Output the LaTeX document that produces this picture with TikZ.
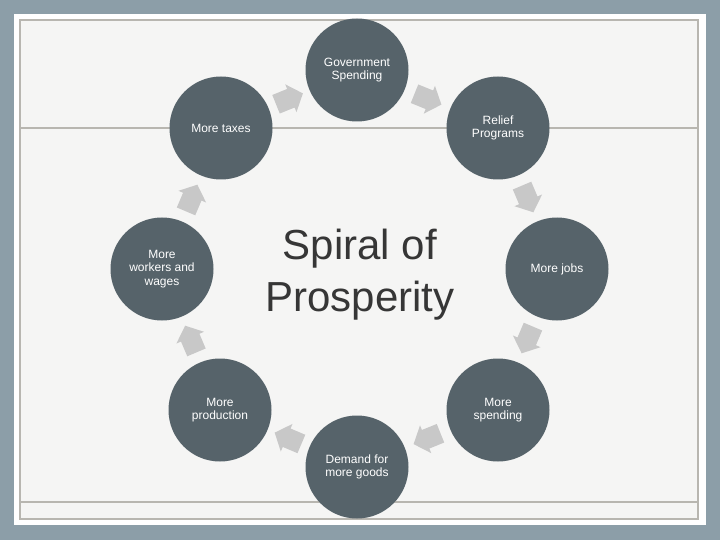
\documentclass[tikz,border=0pt]{standalone}
\usepackage{fontspec}
\setmainfont{Liberation Sans}
\usetikzlibrary{calc}
\definecolor{slate}{HTML}{56636A}
\definecolor{frameblue}{HTML}{8C9EA8}
\definecolor{paper}{HTML}{F5F5F4}
\definecolor{rulegray}{HTML}{B8B6B0}
\definecolor{flowgray}{HTML}{C8C8C8}
\definecolor{titlegray}{HTML}{363636}
\tikzset{
  stage/.style={circle,fill=slate,minimum size=103pt,inner sep=0pt,text=white,
    align=center,font=\fontsize{12}{13.5}\selectfont},
  flow/.pic={\fill[flowgray] (-14,-10) -- (2,-10) -- (2,-15) -- (15,0) -- (2,15)
    -- (2,10) -- (-14,10) -- cycle;},
}
\begin{document}
\begin{tikzpicture}[x=1pt,y=-1pt]
\useasboundingbox (0,0) rectangle (720,540);
% frame
\fill[frameblue] (0,0) rectangle (720,540);
\fill[white] (14,14) rectangle (706,525);
\fill[paper] (20,20) rectangle (698,519);
\draw[rulegray,line width=2.5pt] (20,20) rectangle (698,519);
\draw[rulegray,line width=2.5pt] (20,128) -- (698,128);
\draw[rulegray,line width=2.5pt] (20,502) -- (698,502);
%
\node (gov) [stage] at (357,70) {Government\\Spending};
\node (relief) [stage] at (498,128) {Relief\\Programs};
\node (jobs) [stage] at (557,269) {More jobs};
\node (spend) [stage] at (498,410) {More\\spending};
\node (demand) [stage] at (357,467) {Demand for\\more goods};
\node (prod) [stage] at (220,410) {More\\production};
\node (workers) [stage] at (162,269) {More\\workers and\\wages};
\node (taxes) [stage] at (221,128) {More taxes};
%
\node (title) [text=titlegray,align=center,font=\fontsize{42}{52}\selectfont] at (360,275) {Spiral of\\Prosperity};
%
\pic (f1) [rotate=-22] at ($(gov)!0.5!(relief)$) {flow};
\pic (f2) [rotate=-67] at ($(relief)!0.5!(jobs)$) {flow};
\pic (f3) [rotate=-113] at ($(jobs)!0.5!(spend)$) {flow};
\pic (f4) [rotate=-158] at ($(spend)!0.5!(demand)$) {flow};
\pic (f5) [rotate=157] at ($(demand)!0.5!(prod)$) {flow};
\pic (f6) [rotate=113] at ($(prod)!0.5!(workers)$) {flow};
\pic (f7) [rotate=67] at ($(workers)!0.5!(taxes)$) {flow};
\pic (f8) [rotate=22] at ($(taxes)!0.5!(gov)$) {flow};
%
\end{tikzpicture}
\end{document}
